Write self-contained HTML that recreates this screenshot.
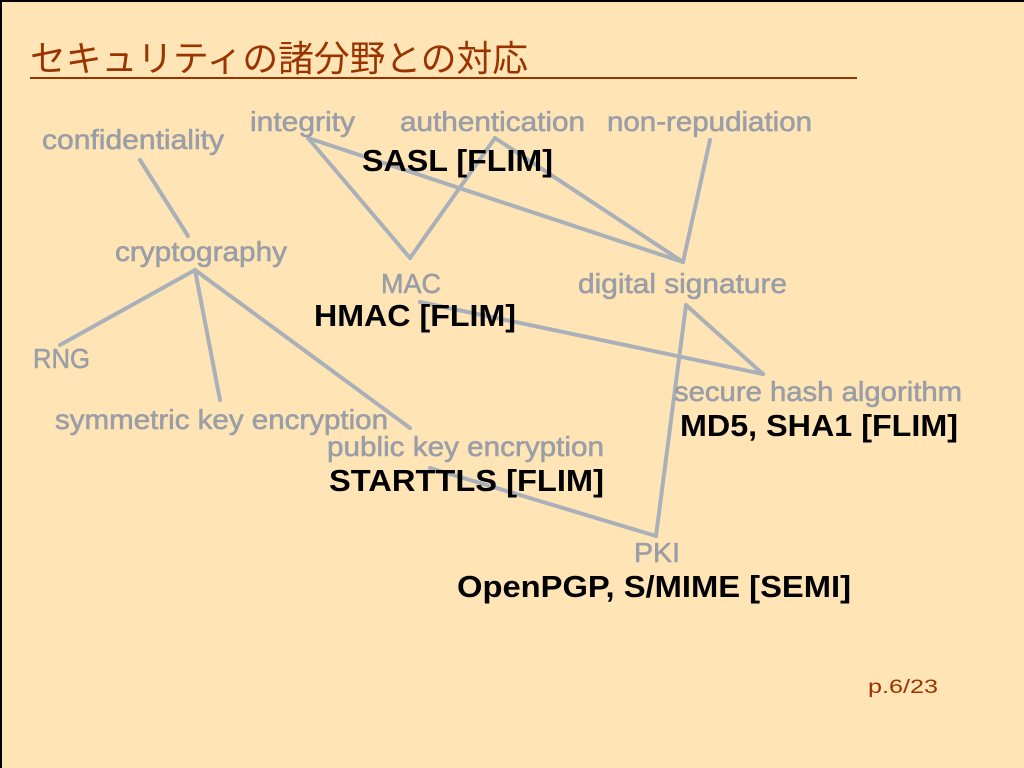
<!DOCTYPE html>
<html><head><meta charset="utf-8"><style>
html,body{margin:0;padding:0;}
body{width:1024px;height:768px;overflow:hidden;background:#ffe4b5;}
svg{display:block;}
.g{font-family:"Liberation Sans",sans-serif;font-size:28px;fill:#9a9ea6;stroke:#9a9ea6;stroke-width:0.6px;}
.b{font-family:"Liberation Sans",sans-serif;font-size:31px;font-weight:bold;fill:#000;}
</style></head><body>
<svg width="1024" height="768" xmlns="http://www.w3.org/2000/svg">
<rect x="0" y="0" width="1024" height="768" fill="#ffe4b5"/>
<rect x="0" y="0" width="1024" height="2" fill="#000"/>
<rect x="0" y="0" width="2" height="768" fill="#000"/>
<text x="30" y="71" font-family="'Liberation Sans','Noto Sans CJK JP',sans-serif" font-size="36" fill="#993300" textLength="498" lengthAdjust="spacingAndGlyphs">セキュリティの諸分野との対応</text>
<rect x="30" y="77" width="827" height="2" fill="#993300"/>
<g stroke="#aab0b8" stroke-width="4" fill="none" stroke-linecap="round">
<line x1="140" y1="160" x2="188" y2="236"/>
<line x1="195" y1="270" x2="60" y2="345"/>
<line x1="195" y1="270" x2="220" y2="400"/>
<line x1="195" y1="270" x2="410" y2="428"/>
<line x1="308" y1="138" x2="410" y2="258"/>
<line x1="308" y1="138" x2="683" y2="262"/>
<line x1="495" y1="138" x2="410" y2="258"/>
<line x1="495" y1="138" x2="683" y2="262"/>
<line x1="710" y1="140" x2="683" y2="262"/>
<line x1="420" y1="302" x2="763" y2="374"/>
<line x1="686" y1="305" x2="763" y2="374"/>
<line x1="686" y1="305" x2="656" y2="536"/>
<line x1="430" y1="468" x2="656" y2="536"/>
</g>
<text class="g" x="42" y="149" textLength="182" lengthAdjust="spacingAndGlyphs">confidentiality</text>
<text class="g" x="250" y="131" textLength="105" lengthAdjust="spacingAndGlyphs">integrity</text>
<text class="g" x="400" y="131" textLength="185" lengthAdjust="spacingAndGlyphs">authentication</text>
<text class="g" x="607" y="131" textLength="205" lengthAdjust="spacingAndGlyphs">non-repudiation</text>
<text class="g" x="115" y="261" textLength="172" lengthAdjust="spacingAndGlyphs">cryptography</text>
<text class="g" x="381" y="293" textLength="60" lengthAdjust="spacingAndGlyphs">MAC</text>
<text class="g" x="578" y="293" textLength="209" lengthAdjust="spacingAndGlyphs">digital signature</text>
<text class="g" x="33" y="368" textLength="57" lengthAdjust="spacingAndGlyphs">RNG</text>
<text class="g" x="674" y="401" textLength="288" lengthAdjust="spacingAndGlyphs">secure hash algorithm</text>
<text class="g" x="55" y="429" textLength="333" lengthAdjust="spacingAndGlyphs">symmetric key encryption</text>
<text class="g" x="327" y="456" textLength="277" lengthAdjust="spacingAndGlyphs">public key encryption</text>
<text class="g" x="634" y="562" textLength="46" lengthAdjust="spacingAndGlyphs">PKI</text>
<text class="b" x="362" y="171" textLength="191" lengthAdjust="spacingAndGlyphs">SASL [FLIM]</text>
<text class="b" x="314" y="326" textLength="202" lengthAdjust="spacingAndGlyphs">HMAC [FLIM]</text>
<text class="b" x="680" y="436" textLength="278" lengthAdjust="spacingAndGlyphs">MD5, SHA1 [FLIM]</text>
<text class="b" x="329" y="491" textLength="275" lengthAdjust="spacingAndGlyphs">STARTTLS [FLIM]</text>
<text class="b" x="457" y="597" textLength="394" lengthAdjust="spacingAndGlyphs">OpenPGP, S/MIME [SEMI]</text>
<text x="868" y="693" font-family="'Liberation Sans',sans-serif" font-size="19" fill="#993300" textLength="70" lengthAdjust="spacingAndGlyphs">p.6/23</text>
</svg>
</body></html>
